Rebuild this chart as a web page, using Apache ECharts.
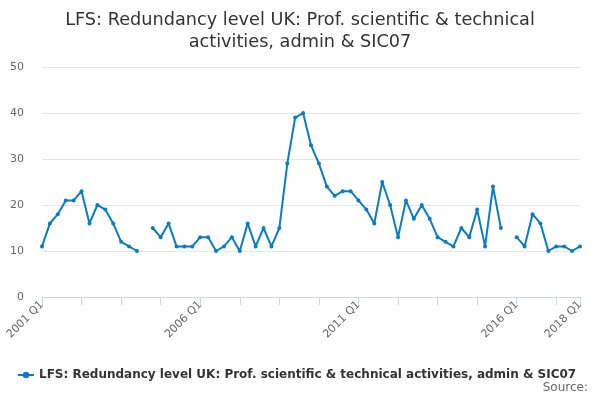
<!DOCTYPE html>
<html>
<head>
<meta charset="utf-8">
<script src="https://cdn.jsdelivr.net/npm/echarts@6/dist/echarts.min.js"></script>
<style>
  html, body { margin: 0; padding: 0; background: #fff; }
  #chart { width: 600px; height: 400px; }
</style>
</head>
<body>
<div id="chart"></div>
<script>
const seriesName = 'LFS: Redundancy level UK: Prof. scientific & technical activities, admin & SIC07';

// quarters 2001 Q1 .. 2018 Q1
const quarters = [];
for (let y = 2001; y <= 2018; y++) {
  for (let q = 1; q <= 4; q++) {
    if (y === 2018 && q > 1) break;
    quarters.push(y + ' Q' + q);
  }
}
const labelledQuarters = ['2001 Q1', '2006 Q1', '2011 Q1', '2016 Q1', '2018 Q1'];

const redundancies = [
  11, 16, 18, 21, 21, 23, 16, 20, 19, 16, 12, 11, 10, null, 15, 13,
  16, 11, 11, 11, 13, 13, 10, 11, 13, 10, 16, 11, 15, 11, 15, 29,
  39, 40, 33, 29, 24, 22, 23, 23, 21, 19, 16, 25, 20, 13, 21, 17,
  20, 17, 13, 12, 11, 15, 13, 19, 11, 24, 15, null, 13, 11, 18, 16,
  10, 11, 11, 10, 11
];

const myChart = echarts.init(document.getElementById('chart'));
const last = quarters.length - 1;

const option = {
  animation: false,
  title: {
    text: 'LFS: Redundancy level UK: Prof. scientific & technical\nactivities, admin & SIC07',
    left: 'center',
    top: 4,
    textStyle: {
      fontFamily: 'DejaVu Sans',
      fontSize: 17.7,
      fontWeight: 'normal',
      color: '#333',
      lineHeight: 22,
    },
  },
  legend: {
    left: 12,
    top: 364,
    itemWidth: 16,
    itemHeight: 8,
    itemGap: 4,
    textStyle: {
      fontFamily: 'DejaVu Sans',
      fontSize: 12,
      fontWeight: 'bold',
      color: '#333',
    },
    data: [seriesName],
  },
  graphic: [{
    type: 'text',
    right: 12,
    top: 382,
    style: {
      text: 'Source:',
      fontFamily: 'DejaVu Sans',
      fontSize: 12,
      fill: '#666',
    },
  }],
  grid: {
    left: 42,
    right: 20,
    top: 67,
    bottom: 103,
    containLabel: false,
  },
  xAxis: {
    type: 'category',
    data: quarters,
    boundaryGap: false,
    axisLine: { lineStyle: { color: '#ccd6eb' } },
    axisTick: {
      length: 8,
      lineStyle: { color: '#ccd6eb' },
      interval: (i) => i % 5 === 0 || i === last,
    },
    axisLabel: {
      rotate: 45,
      interval: (i, v) => labelledQuarters.indexOf(v) >= 0,
      fontFamily: 'DejaVu Sans',
      fontSize: 11,
      color: '#666',
      margin: 6,
    },
    splitLine: { show: false },
  },
  yAxis: {
    type: 'value',
    min: 0,
    max: 50,
    interval: 10,
    axisLine: { show: false },
    axisTick: { show: false },
    axisLabel: {
      fontFamily: 'DejaVu Sans',
      fontSize: 11,
      color: '#666',
      margin: 18,
    },
    splitLine: { lineStyle: { color: '#e6e6e6' } },
  },
  series: [{
    name: seriesName,
    type: 'line',
    data: redundancies,
    connectNulls: false,
    symbol: 'circle',
    symbolSize: 4,
    color: '#0a7cc1',
    lineStyle: { width: 2 },
  }],
};

myChart.setOption(option);
</script>
</body>
</html>
